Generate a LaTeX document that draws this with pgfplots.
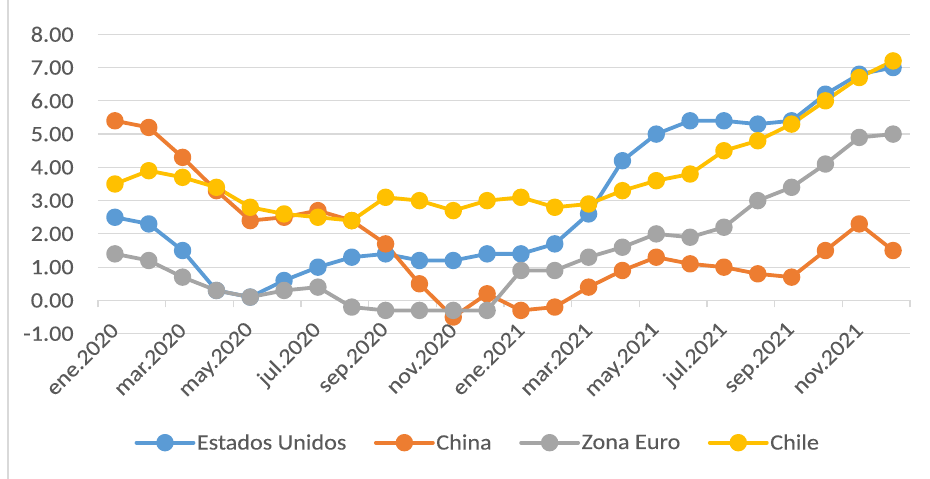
\documentclass[border=0pt]{standalone}
\usepackage{fontspec}
\setmainfont{Carlito}[FakeStretch=1.1, FakeBold=0.12]
\usepackage{pgfplots}
\pgfplotsset{compat=1.18}
\usetikzlibrary{calc}
\definecolor{cUS}{HTML}{5B9BD5}
\definecolor{cCN}{HTML}{ED7D31}
\definecolor{cEU}{HTML}{A5A5A5}
\definecolor{cCL}{HTML}{FFC000}
\definecolor{gridc}{HTML}{D9D9D9}
\definecolor{txt}{HTML}{595959}
\newcommand\cf{\fontsize{22bp}{26bp}\selectfont}
\begin{document}
\begin{tikzpicture}[x=1bp,y=1bp]
\begin{axis}[
  width=812bp, height=299.4bp, scale only axis,
  xmin=-0.5, xmax=23.5, ymin=-1, ymax=8,
  axis x line=middle, axis y line=left,
  axis line style={-},
  x axis line style={draw=gridc, line width=1.2bp},
  y axis line style={draw=none},
  hide obscured x ticks=false, hide obscured y ticks=false,
  ytick={-1,0,...,8}, ymajorgrids,
  major grid style={gridc, line width=1.2bp},
  ytick style={draw=none},
  yticklabel style={inner sep=0pt, xshift=-22bp, anchor=east, font=\cf, text=txt,
    /pgf/number format/.cd, fixed, fixed zerofill, precision=2, assume math mode=true},
  xtick={0,2,...,22},
  xticklabels={ene.2020,mar.2020,may.2020,jul.2020,sep.2020,nov.2020,
    ene.2021,mar.2021,may.2021,jul.2021,sep.2021,nov.2021},
  xtick style={draw=none},
  xticklabel style={inner sep=0pt, yshift=-24bp, rotate=45, anchor=east, font=\cf, text=txt},
  extra x ticks={-0.5,1.5,...,23.5},
  extra x tick labels={},
  extra x tick style={grid=none, tick align=outside, major tick length=7bp,
    xtick style={draw=gridc, line width=1.2bp}},
  legend columns=4,
  legend style={draw=none, fill=none, at={(0.4674,-0.364)}, anchor=center,
    font=\cf, text=txt, nodes={inner sep=1.5bp},
    /tikz/every even column/.append style={column sep=26bp}},
  legend image code/.code={\draw[#1,mark repeat=2,mark phase=2]
    plot coordinates {(0bp,0bp) (28.5bp,0bp) (57bp,0bp)};},
  every axis plot/.append style={line width=3.8bp, line join=round, line cap=round,
    mark=*, mark size=6.8bp},
]
\coordinate (BL) at (rel axis cs:0,0);
\addplot[cUS, mark options={solid, draw=none, fill=cUS}] coordinates {
(0,2.5)(1,2.3)(2,1.5)(3,0.3)(4,0.1)(5,0.6)(6,1.0)(7,1.3)(8,1.4)(9,1.2)(10,1.2)(11,1.4)
(12,1.4)(13,1.7)(14,2.6)(15,4.2)(16,5.0)(17,5.4)(18,5.4)(19,5.3)(20,5.4)(21,6.2)(22,6.8)(23,7.0)};
\addplot[cCN, mark options={solid, draw=none, fill=cCN}] coordinates {
(0,5.4)(1,5.2)(2,4.3)(3,3.3)(4,2.4)(5,2.5)(6,2.7)(7,2.4)(8,1.7)(9,0.5)(10,-0.5)(11,0.2)
(12,-0.3)(13,-0.2)(14,0.4)(15,0.9)(16,1.3)(17,1.1)(18,1.0)(19,0.8)(20,0.7)(21,1.5)(22,2.3)(23,1.5)};
\addplot[cEU, mark options={solid, draw=none, fill=cEU}] coordinates {
(0,1.4)(1,1.2)(2,0.7)(3,0.3)(4,0.1)(5,0.3)(6,0.4)(7,-0.2)(8,-0.3)(9,-0.3)(10,-0.3)(11,-0.3)
(12,0.9)(13,0.9)(14,1.3)(15,1.6)(16,2.0)(17,1.9)(18,2.2)(19,3.0)(20,3.4)(21,4.1)(22,4.9)(23,5.0)};
\addplot[cCL, mark options={solid, draw=none, fill=cCL}] coordinates {
(0,3.5)(1,3.9)(2,3.7)(3,3.4)(4,2.8)(5,2.6)(6,2.5)(7,2.4)(8,3.1)(9,3.0)(10,2.7)(11,3.0)
(12,3.1)(13,2.8)(14,2.9)(15,3.3)(16,3.6)(17,3.8)(18,4.5)(19,4.8)(20,5.3)(21,6.0)(22,6.7)(23,7.2)};
\legend{Estados Unidos,China,Zona Euro,Chile}
\end{axis}
\pgfresetboundingbox
\useasboundingbox ($(BL)+(-98,-145.3)$) rectangle ++(930,479);
\draw[gridc, line width=1.8bp] ($(BL)+(-90.3,-150)$) -- ++(0,619.3) -- ++(1000,0);
\end{tikzpicture}
\end{document}
